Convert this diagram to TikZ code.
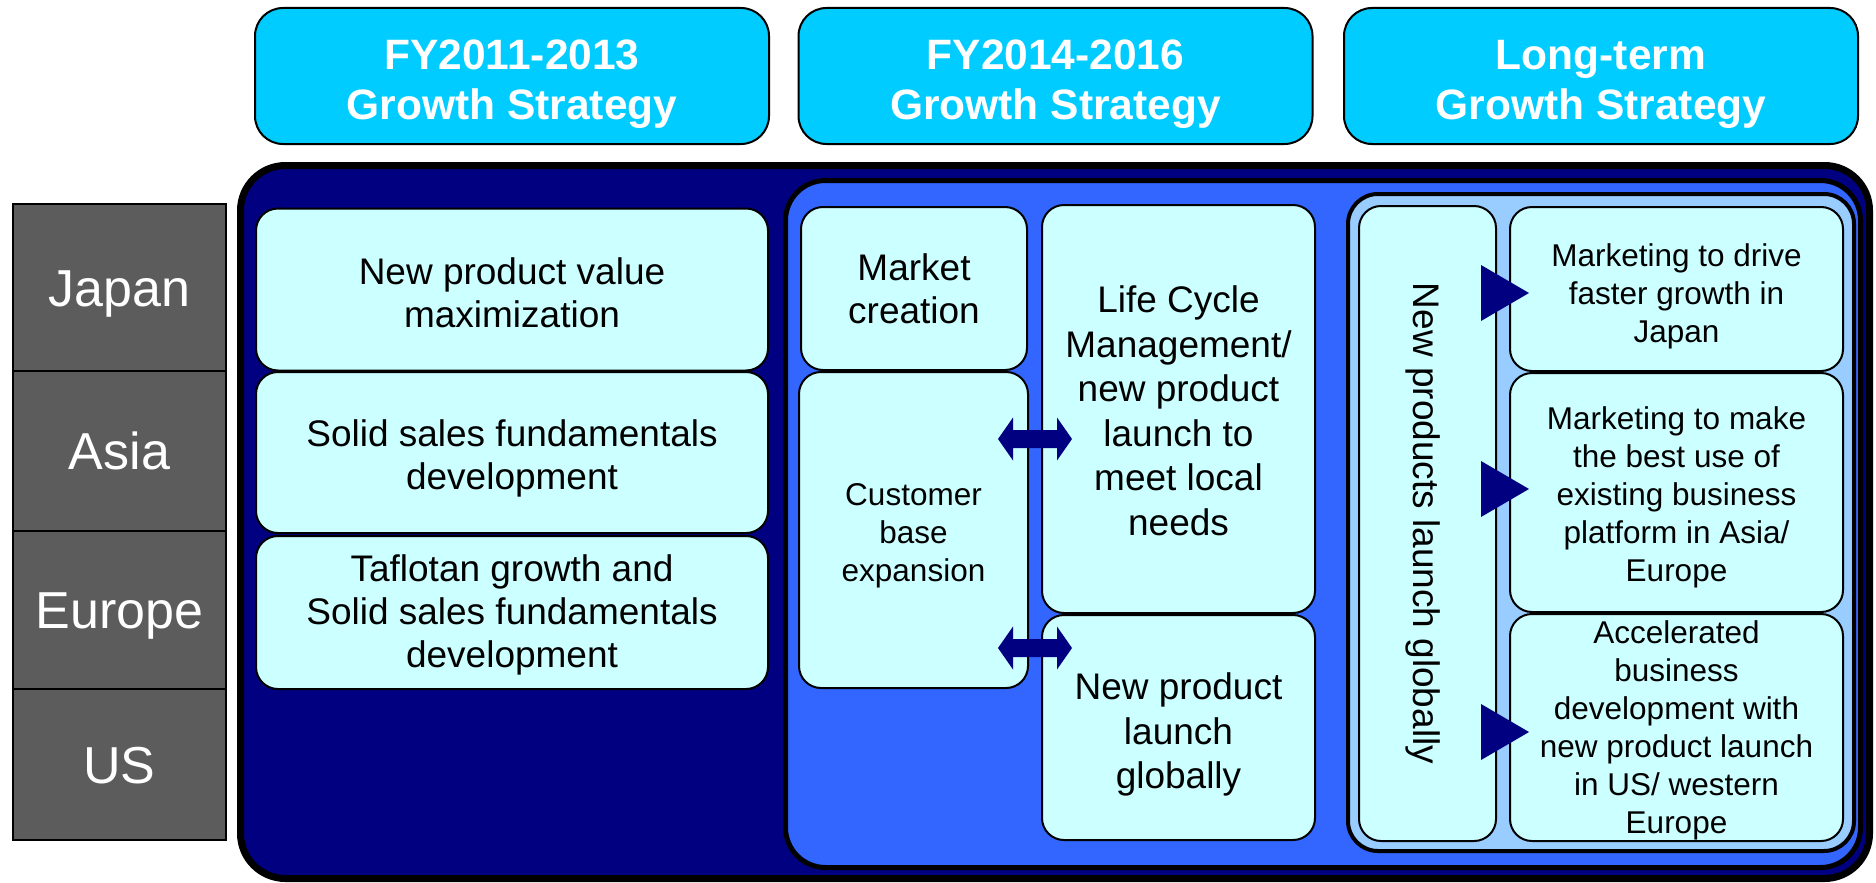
\documentclass[tikz,border=0pt]{standalone}
\usepackage{fontspec}
\setmainfont{Liberation Sans}
\usetikzlibrary{calc}
\definecolor{hdrblue}{HTML}{00CCFF}
\definecolor{navyfill}{HTML}{000080}
\definecolor{midblue}{HTML}{3366FF}
\definecolor{lightblue}{HTML}{99CCFF}
\definecolor{palecyan}{HTML}{CCFFFF}
\definecolor{regiongray}{HTML}{5C5C5C}
\begin{document}
\begin{tikzpicture}[x=1pt,y=-1pt,
  hdr/.style={draw=black, line width=2pt, fill=hdrblue, rounded corners=28pt, inner sep=0pt,
    minimum width=514pt, minimum height=136pt},
  hdrtxt/.style={text=white, font=\bfseries\fontsize{42.5}{50}\selectfont, align=center, inner sep=0pt},
  region/.style={draw=black, line width=2pt, fill=regiongray, text=white,
    font=\fontsize{52}{60}\selectfont, inner sep=0pt, minimum width=213pt,
    text height=37pt, text depth=0pt},
  panel/.style={draw=black, rounded corners=#1, inner sep=0pt},
  ibox/.style={draw=black, line width=2pt, fill=palecyan, rounded corners=22pt, align=center, inner sep=0pt},
  bigtxt/.style={font=\fontsize{37}{43}\selectfont},
  midtxt/.style={font=\fontsize{37}{44.5}\selectfont},
  smalltxt/.style={font=\fontsize{31.5}{38}\selectfont},
  navyshape/.style={fill=navyfill}
]
\useasboundingbox (0,0) rectangle (1876,883);

% headers
\node[hdr] (h1) at (512,76) {};
\node[hdr] (h2) at (1055.5,76) {};
\node[hdr] (h3) at (1601,76) {};
\node[hdrtxt] (h1t) at ($(h1.center)+(0,8)$) {FY2011-2013\\Growth Strategy};
\node[hdrtxt] (h2t) at ($(h2.center)+(0,8)$) {FY2014-2016\\Growth Strategy};
\node[hdrtxt] (h3t) at ($(h3.center)+(0,8)$) {Long-term\\Growth Strategy};

% regions
\node[region, minimum height=167pt] (japan) at (119.5,287.5) {Japan};
\node[region, minimum height=160pt] (asia) at (119.5,451) {Asia};
\node[region, minimum height=158pt] (europe) at (119.5,610) {Europe};
\node[region, minimum height=151pt] (us) at (119.5,764.5) {US};

% nested panels
\node[panel=45pt, line width=7pt, fill=navyfill, minimum width=1629pt, minimum height=713pt] (outer) at (1055,522) {};
\node[panel=40pt, line width=5pt, fill=midblue, minimum width=1075pt, minimum height=687pt] (mid) at (1323,524) {};
\node[panel=30pt, line width=4pt, fill=lightblue, minimum width=506pt, minimum height=657pt] (light) at (1601,522.5) {};

% FY2011-2013 column
\node[ibox, minimum width=512pt, minimum height=162pt] (l1) at (512,289.5) {};
\node[bigtxt, align=center, inner sep=0pt] (l1t) at ($(l1.center)+(0,3)$) {New product value\\maximization};
\node[ibox, minimum width=512pt, minimum height=161pt] (l2) at (512,452.5) {};
\node[bigtxt, align=center, inner sep=0pt] (l2t) at ($(l2.center)+(0,6)$) {Solid sales fundamentals\\development};
\node[ibox, minimum width=512pt, minimum height=153pt] (l3) at (512,612.5) {};
\node[bigtxt, align=center, inner sep=0pt] (l3t) at ($(l3.center)+(0,2.5)$) {Taflotan growth and\\Solid sales fundamentals\\development};

% FY2014-2016 column
\node[ibox, bigtxt, minimum width=226pt, minimum height=163pt] (market) at (914,288.5) {Market\\creation};
\node[ibox, minimum width=229pt, minimum height=316pt] (cust) at (913.5,530) {};
\node[smalltxt, align=center, inner sep=0pt] (custt) at ($(cust.center)+(0,6)$) {Customer\\base\\expansion};
\node[ibox, minimum width=273pt, minimum height=408pt] (life) at (1178.5,409) {};
\node[midtxt, align=center, inner sep=0pt] (lifet) at ($(life.center)+(0,2)$) {Life Cycle\\Management/\\new product\\launch to\\meet local\\needs};
\node[ibox, minimum width=273pt, minimum height=225pt] (newp) at (1178.5,727.5) {};
\node[midtxt, align=center, inner sep=0pt] (newpt) at ($(newp.center)+(0,7)$) {New product\\launch\\globally};

% double arrows
\coordinate (da1) at ($(cust.east)+(-31,-91)$);
\coordinate (da2) at ($(cust.east)+(-31,118)$);
\foreach \c in {da1,da2}{
  \fill[navyshape] (\c) -- ++(15,-21.5) -- ++(0,12.5) -- ++(44,0) -- ++(0,-12.5) -- ++(15,21.5)
    -- ++(-15,21.5) -- ++(0,-12.5) -- ++(-44,0) -- ++(0,12.5) -- cycle;
}

% Long-term column
\node[ibox, minimum width=137pt, minimum height=635pt] (vert) at (1427.5,523.5) {};
\node[inner sep=0pt] (vertt) at ($(vert.center)+(-4,0)$)
  {\rotatebox{-90}{\fontsize{37}{43}\selectfont New products launch globally}};
\node[ibox, minimum width=333pt, minimum height=164pt] (mk1) at (1676.5,289) {};
\node[smalltxt, align=center, inner sep=0pt] (mk1t) at ($(mk1.center)+(0,7)$) {Marketing to drive\\faster growth in\\Japan};
\node[ibox, minimum width=333pt, minimum height=239pt] (mk2) at (1676.5,492.5) {};
\node[smalltxt, align=center, inner sep=0pt] (mk2t) at ($(mk2.center)+(0,5)$) {Marketing to make\\the best use of\\existing business\\platform in Asia/\\Europe};
\node[ibox, minimum width=333pt, minimum height=227pt] (mk3) at (1676.5,727.5) {};
\node[smalltxt, align=center, inner sep=0pt] (mk3t) at ($(mk3.center)+(0,3)$) {Accelerated\\business\\development with\\new product launch\\in US/ western\\Europe};

% triangles
\foreach \m/\dy in {mk1/4, mk2/-3.5, mk3/4.5}{
  \fill[navyshape] ($(vert.east |- \m.west)+(-16,\dy)$) ++(0,-28) -- ++(48,28) -- ++(-48,28) -- cycle;
}
\end{tikzpicture}
\end{document}
